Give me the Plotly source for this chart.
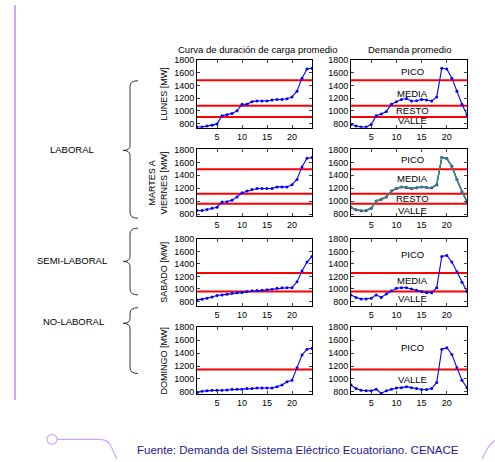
import plotly.graph_objects as go

W, H = 495, 462
hours = list(range(1, 25))

# Load duration curves (sorted hourly demand) [MW]
lunes_dur = [745, 745, 760, 775, 795, 925, 940, 960, 1000, 1105, 1105, 1145, 1155, 1155, 1155, 1170, 1180, 1180, 1190, 1220, 1310, 1515, 1660, 1670]
martes_dur = [855, 855, 870, 890, 905, 985, 990, 1015, 1065, 1130, 1155, 1180, 1195, 1195, 1195, 1195, 1220, 1220, 1220, 1255, 1335, 1530, 1665, 1675]
sabado_dur = [825, 835, 850, 870, 895, 905, 915, 930, 940, 945, 960, 970, 975, 980, 985, 995, 1010, 1020, 1020, 1020, 1115, 1285, 1430, 1520]
domingo_dur = [785, 810, 815, 825, 825, 825, 828, 840, 840, 840, 850, 850, 860, 860, 860, 860, 880, 905, 955, 980, 1175, 1370, 1460, 1475]

# Average hourly demand [MW]
lunes_dem = [785, 760, 745, 745, 785, 925, 950, 990, 1105, 1145, 1180, 1195, 1155, 1160, 1180, 1170, 1155, 1220, 1670, 1660, 1515, 1310, 1105, 940]
martes_dem = [900, 865, 850, 855, 890, 1000, 1030, 1065, 1155, 1195, 1220, 1210, 1195, 1205, 1220, 1210, 1205, 1255, 1675, 1660, 1540, 1335, 1145, 990]
miercoles_dem = [895, 860, 848, 852, 885, 995, 1025, 1060, 1150, 1190, 1215, 1205, 1190, 1200, 1215, 1205, 1200, 1250, 1680, 1665, 1545, 1340, 1150, 985]
jueves_dem = [905, 870, 855, 860, 895, 1005, 1035, 1070, 1160, 1200, 1225, 1215, 1200, 1210, 1225, 1215, 1210, 1260, 1670, 1655, 1535, 1330, 1140, 995]
viernes_dem = [898, 866, 852, 856, 892, 1002, 1032, 1066, 1157, 1197, 1222, 1212, 1197, 1207, 1222, 1212, 1207, 1257, 1677, 1662, 1538, 1337, 1147, 992]
sabado_dem = [905, 865, 840, 840, 850, 905, 865, 920, 970, 1010, 1020, 1020, 1000, 980, 960, 940, 940, 1020, 1520, 1535, 1430, 1275, 1105, 960]
domingo_dem = [905, 850, 825, 815, 815, 840, 775, 815, 840, 860, 865, 880, 865, 850, 835, 835, 850, 945, 1460, 1485, 1380, 1175, 980, 865]

# Period limits [MW]
lunes_lim = [1480, 1080, 905]
martes_lim = [1495, 1115, 960]
sabado_lim = [1255, 958]
domingo_lim = [1145]

row_labels = ["LUNES [MW]", "MARTES A<br>VIERNES [MW]", "SABADO [MW]", "DOMINGO [MW]"]
period_labels = [
    [("PICO", 1620), ("MEDIA", 1275), ("RESTO", 1000), ("VALLE", 845)],
    [("PICO", 1640), ("MEDIA", 1350), ("RESTO", 1040), ("VALLE", 855)],
    [("PICO", 1550), ("MEDIA", 1130), ("VALLE", 855)],
    [("PICO", 1485), ("VALLE", 990)],
]
y_min = [733, 765, 732, 764]
group_labels = ["LABORAL", "SEMI-LABORAL", "NO-LABORAL"]
col_titles = ["Curva de duración de carga promedio", "Demanda promedio"]
source = "Fuente: Demanda del Sistema Eléctrico Ecuatoriano. CENACE"

FONT = "Liberation Sans, Arial, sans-serif"
BLUE = "#0000ff"

def px(x):
    return x / W

def py(y):
    return 1 - y / H

rows_px = [(56, 125), (147, 215), (238, 306), (328, 396)]
cols_px = [(197, 312), (351, 467)]

fig = go.Figure()
layout = dict(width=W, height=H, margin=dict(l=0, r=0, t=0, b=0),
              paper_bgcolor="white", plot_bgcolor="white", showlegend=False,
              font=dict(family=FONT, size=9, color="black"))

dur = [lunes_dur, martes_dur, sabado_dur, domingo_dur]
dem = [lunes_dem, martes_dem, sabado_dem, domingo_dem]
lims = [lunes_lim, martes_lim, sabado_lim, domingo_lim]

annotations = []
shapes = []
k = 0
for r in range(4):
    for c in range(2):
        k += 1
        xa = "x" if k == 1 else f"x{k}"
        ya = "y" if k == 1 else f"y{k}"
        xkey = "xaxis" if k == 1 else f"xaxis{k}"
        ykey = "yaxis" if k == 1 else f"yaxis{k}"
        top, bot = rows_px[r]
        left, right = cols_px[c]
        layout[xkey] = dict(domain=[px(left), px(right)], range=[1, 24], anchor=ya,
                            tickvals=[5, 10, 15, 20], ticks="inside", ticklen=3,
                            showline=True, linecolor="black", linewidth=1, mirror="ticks",
                            showgrid=False, zeroline=False, tickfont=dict(size=9))
        layout[ykey] = dict(domain=[py(bot), py(top)], range=[y_min[r], 1800], anchor=xa,
                            tickvals=[800, 1000, 1200, 1400, 1600, 1800], ticks="inside", ticklen=3,
                            showline=True, linecolor="black", linewidth=1, mirror="ticks",
                            showgrid=False, zeroline=False, tickfont=dict(size=9))
        if c == 0:
            layout[ykey]["title"] = dict(text=row_labels[r], font=dict(size=9), standoff=5)
        for v in lims[r]:
            fig.add_trace(go.Scatter(x=[1, 24], y=[v, v], mode="lines", xaxis=xa, yaxis=ya,
                                     line=dict(color="#ff0000", width=2), hoverinfo="skip"))
        if c == 0:
            fig.add_trace(go.Scatter(x=hours, y=dur[r], mode="lines+markers", xaxis=xa, yaxis=ya,
                                     line=dict(color=BLUE, width=1.1), marker=dict(size=3, color=BLUE)))
        else:
            fig.add_trace(go.Scatter(x=hours, y=dem[r], mode="lines+markers", xaxis=xa, yaxis=ya,
                                     line=dict(color=BLUE, width=1.1), marker=dict(size=3, color=BLUE)))
            if r == 1:
                for series, col in [(miercoles_dem, "#e02020"), (jueves_dem, "#20a020"), (viernes_dem, "#2a8f9a")]:
                    fig.add_trace(go.Scatter(x=hours, y=series, mode="lines", xaxis=xa, yaxis=ya,
                                             line=dict(color=col, width=1.2)))
            for txt, yv in period_labels[r]:
                annotations.append(dict(x=13.2, y=yv, xref=xa, yref=ya, text=txt, showarrow=False,
                                        xanchor="center", yanchor="middle",
                                        font=dict(size=9.5, color="black")))

def paper_text(x, y, text, size, color="black"):
    return dict(x=px(x), y=py(y), xref="paper", yref="paper", text=text, showarrow=False,
                xanchor="center", yanchor="middle", font=dict(size=size, color=color))

# column titles
annotations.append(paper_text(257, 45, col_titles[0], 9.5))
annotations.append(paper_text(409, 45, col_titles[1], 9.5))

# group labels and braces
groups = [(77, 217, 148, 147), (227, 295, 261, 260), (308, 375, 324, 322)]
label_x = [72, 72, 73]
for (t, b, m, ly), lab, lx in zip(groups, group_labels, label_x):
    annotations.append(paper_text(lx, ly, lab, 9.5))
    xv, xe, xt = 130, 138, 123
    path = (f"M {px(xe)},{py(t)} Q {px(xv)},{py(t)} {px(xv)},{py(t + 6)} "
            f"L {px(xv)},{py(m - 5)} Q {px(xv)},{py(m)} {px(xt)},{py(m)} "
            f"Q {px(xv)},{py(m)} {px(xv)},{py(m + 5)} "
            f"L {px(xv)},{py(b - 6)} Q {px(xv)},{py(b)} {px(xe)},{py(b)}")
    shapes.append(dict(type="path", xref="paper", yref="paper", path=path,
                       line=dict(color="#333333", width=1)))

# decorative lines
PURPLE = "#cfa6f5"
shapes.append(dict(type="line", xref="paper", yref="paper", x0=px(15), x1=px(15), y0=py(0), y1=py(402),
                   line=dict(color=PURPLE, width=2)))
shapes.append(dict(type="circle", xref="paper", yref="paper", x0=px(47), x1=px(57), y0=py(447), y1=py(437),
                   line=dict(color=PURPLE, width=1.2)))
shapes.append(dict(type="path", xref="paper", yref="paper",
                   path=f"M {px(57)},{py(442)} L {px(100)},{py(442)} Q {px(108)},{py(442)} {px(111)},{py(449)} L {px(117)},{py(462)}",
                   line=dict(color=PURPLE, width=1.2)))
shapes.append(dict(type="path", xref="paper", yref="paper",
                   path=f"M {px(495)},{py(443)} Q {px(488)},{py(448)} {px(482)},{py(462)}",
                   line=dict(color=PURPLE, width=1.2)))

annotations.append(paper_text(298, 453, source, 11.5, "#1a1a90"))

layout["annotations"] = annotations
layout["shapes"] = shapes
fig.update_layout(**layout)
fig.write_html("out.html")
